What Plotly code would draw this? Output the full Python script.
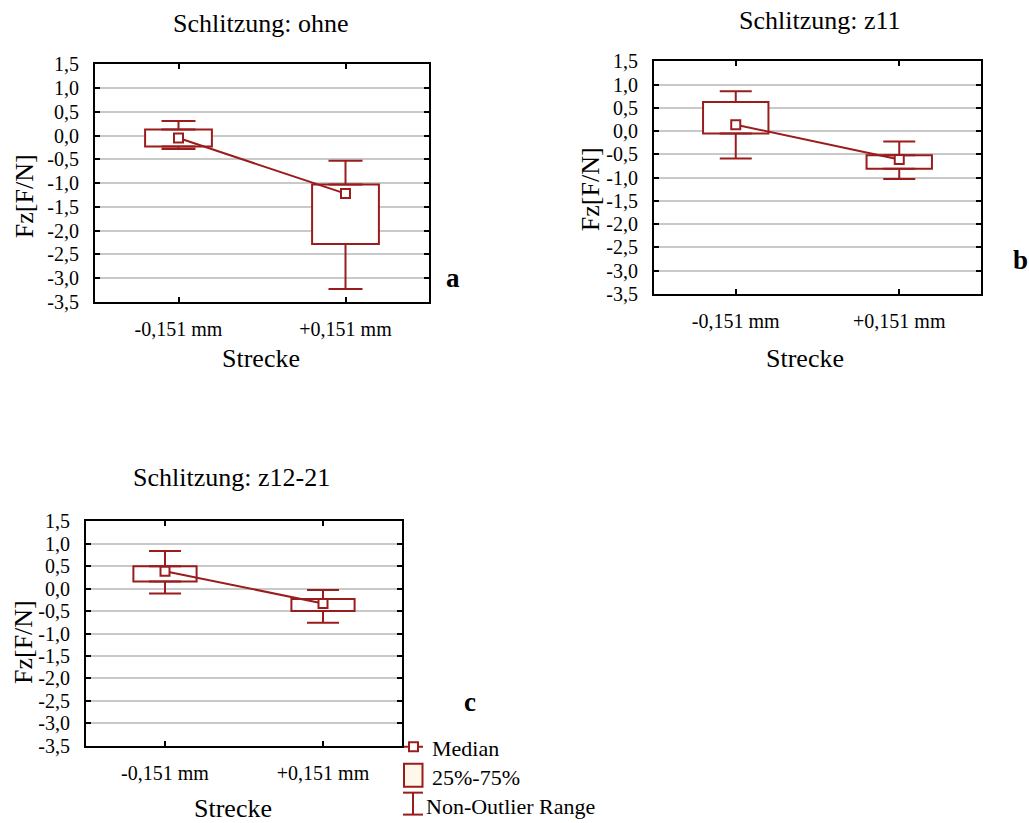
import plotly.graph_objects as go

# ---------------- data ----------------
categories = ["-0,151 mm", "+0,151 mm"]
panel_titles = ["Schlitzung: ohne", "Schlitzung: z11", "Schlitzung: z12-21"]
panel_letters = ["a", "b", "c"]

a_median = [-0.05, -1.22]
a_q1 = [-0.23, -2.28]
a_q3 = [0.13, -1.03]
a_low = [-0.28, -3.23]
a_high = [0.31, -0.53]

b_median = [0.14, -0.61]
b_q1 = [-0.05, -0.81]
b_q3 = [0.63, -0.52]
b_low = [-0.59, -1.03]
b_high = [0.86, -0.22]

c_median = [0.39, -0.33]
c_q1 = [0.16, -0.50]
c_q3 = [0.50, -0.23]
c_low = [-0.11, -0.76]
c_high = [0.84, -0.03]

y_tick_values = [1.5, 1.0, 0.5, 0.0, -0.5, -1.0, -1.5, -2.0, -2.5, -3.0, -3.5]
y_tick_labels = ["1,5", "1,0", "0,5", "0,0", "-0,5", "-1,0", "-1,5", "-2,0", "-2,5", "-3,0", "-3,5"]
y_axis_title = "Fz[F/N]"
x_axis_title = "Strecke"
legend_labels = ["Median", "25%-75%", "Non-Outlier Range"]

# ---------------- style ----------------
W, H = 1029, 823
RED = "#9a1c1c"
FONT = "Liberation Serif"
GRID = "#c9c9c9"
PAPER_TOP, PAPER_H = 8.4, 803.0   # measured mapping of paper coords to screen pixels


def px(x):
    return x / W


def py(y):
    return 1 - (y - PAPER_TOP) / PAPER_H


panels = [
    dict(med=a_median, q1=a_q1, q3=a_q3, lo=a_low, hi=a_high,
         xd=(95, 429), yd=(62, 300), cap=17,
         title=(260, 21), ytitle=(24, 194), xtitle=(261, 357), letter=(453, 276)),
    dict(med=b_median, q1=b_q1, q3=b_q3, lo=b_low, hi=b_high,
         xd=(654, 981), yd=(59, 292), cap=16,
         title=(820, 18), ytitle=(590, 187), xtitle=(805, 357), letter=(1020, 258)),
    dict(med=c_median, q1=c_q1, q3=c_q3, lo=c_low, hi=c_high,
         xd=(86, 402), yd=(520, 745), cap=16,
         title=(231, 476), ytitle=(23, 641), xtitle=(233, 808), letter=(470, 701)),
]

fig = go.Figure()
annotations = []
xpos = list(range(len(categories)))

for i, p in enumerate(panels):
    sfx = "" if i == 0 else str(i + 1)
    xa, ya = "x" + sfx, "y" + sfx
    # interquartile boxes
    fig.add_trace(go.Bar(
        x=xpos, y=[h - l for h, l in zip(p["q3"], p["q1"])], base=p["q1"],
        width=0.4, marker=dict(color="white", line=dict(color=RED, width=2)),
        xaxis=xa, yaxis=ya, showlegend=False, hoverinfo="skip"))
    # upper whiskers
    fig.add_trace(go.Scatter(
        x=xpos, y=p["q3"], mode="markers", marker=dict(size=1, color="rgba(0,0,0,0)"),
        error_y=dict(type="data", symmetric=False,
                     array=[h - q for h, q in zip(p["hi"], p["q3"])],
                     arrayminus=[0] * len(xpos),
                     color=RED, thickness=2, width=p["cap"]),
        xaxis=xa, yaxis=ya, showlegend=False, hoverinfo="skip"))
    # lower whiskers
    fig.add_trace(go.Scatter(
        x=xpos, y=p["q1"], mode="markers", marker=dict(size=1, color="rgba(0,0,0,0)"),
        error_y=dict(type="data", symmetric=False,
                     array=[0] * len(xpos),
                     arrayminus=[q - l for q, l in zip(p["q1"], p["lo"])],
                     color=RED, thickness=2, width=p["cap"]),
        xaxis=xa, yaxis=ya, showlegend=False, hoverinfo="skip"))
    # medians
    fig.add_trace(go.Scatter(
        x=xpos, y=p["med"], mode="lines+markers",
        line=dict(color=RED, width=2),
        marker=dict(symbol="square", size=9, color="white", line=dict(color=RED, width=2)),
        xaxis=xa, yaxis=ya, showlegend=False, hoverinfo="skip"))

    axis_common = dict(showline=True, linecolor="black", linewidth=2, mirror="ticks",
                       ticks="inside", ticklen=5, tickwidth=1.5, tickcolor="black",
                       tickfont=dict(family=FONT, size=20, color="black"))
    fig.layout["xaxis" + sfx] = dict(
        domain=[px(p["xd"][0]), px(p["xd"][1])], anchor=ya,
        range=[-0.5, 1.5], tickvals=xpos, ticktext=categories,
        showgrid=False, zeroline=False, ticklabelstandoff=8, **axis_common)
    fig.layout["yaxis" + sfx] = dict(
        domain=[py(p["yd"][1]), py(p["yd"][0])], anchor=xa,
        range=[-3.5, 1.5], tickvals=y_tick_values, ticktext=y_tick_labels,
        showgrid=True, gridcolor=GRID, gridwidth=2, zeroline=False,
        ticklabelstandoff=10, **axis_common)

    annotations.append(dict(text=panel_titles[i], x=px(p["title"][0]), y=py(p["title"][1]),
                            xref="paper", yref="paper", showarrow=False,
                            xanchor="center", yanchor="middle",
                            font=dict(family=FONT, size=26, color="black")))
    annotations.append(dict(text=y_axis_title, x=px(p["ytitle"][0]), y=py(p["ytitle"][1]),
                            xref="paper", yref="paper", showarrow=False, textangle=-90,
                            xanchor="center", yanchor="middle",
                            font=dict(family=FONT, size=26, color="black")))
    annotations.append(dict(text=x_axis_title, x=px(p["xtitle"][0]), y=py(p["xtitle"][1]),
                            xref="paper", yref="paper", showarrow=False,
                            xanchor="center", yanchor="middle",
                            font=dict(family=FONT, size=26, color="black")))
    annotations.append(dict(text="<b>" + panel_letters[i] + "</b>", x=px(p["letter"][0]),
                            y=py(p["letter"][1]), xref="paper", yref="paper", showarrow=False,
                            xanchor="center", yanchor="middle",
                            font=dict(family=FONT, size=27, color="black")))

# ---------------- manual legend ----------------
shapes = []
lw = 2
shapes.append(dict(type="line", xref="paper", yref="paper", x0=px(404), x1=px(423),
                   y0=py(746), y1=py(746), line=dict(color=RED, width=lw)))
shapes.append(dict(type="rect", xref="paper", yref="paper", x0=px(409), x1=px(418),
                   y0=py(750.5), y1=py(741.5), fillcolor="white", line=dict(color=RED, width=lw)))
shapes.append(dict(type="rect", xref="paper", yref="paper", x0=px(404), x1=px(422.5),
                   y0=py(786), y1=py(763), fillcolor="#fff8ea", line=dict(color=RED, width=lw)))
shapes.append(dict(type="line", xref="paper", yref="paper", x0=px(403), x1=px(423),
                   y0=py(792), y1=py(792), line=dict(color=RED, width=lw)))
shapes.append(dict(type="line", xref="paper", yref="paper", x0=px(413), x1=px(413),
                   y0=py(792), y1=py(814), line=dict(color=RED, width=lw)))
shapes.append(dict(type="line", xref="paper", yref="paper", x0=px(403), x1=px(423),
                   y0=py(814), y1=py(814), line=dict(color=RED, width=lw)))

legend_pos = [(430, 748), (430, 777), (424, 806)]
for lab, (lx, ly) in zip(legend_labels, legend_pos):
    annotations.append(dict(text=lab, x=px(lx), y=py(ly), xref="paper", yref="paper",
                            showarrow=False, xanchor="left", yanchor="middle",
                            font=dict(family=FONT, size=22, color="black")))

fig.update_layout(width=W, height=H, autosize=False,
                  margin=dict(l=0, r=0, t=0, b=0),
                  paper_bgcolor="white", plot_bgcolor="white",
                  annotations=annotations, shapes=shapes, showlegend=False,
                  barmode="overlay")

fig.write_html("out.html")
